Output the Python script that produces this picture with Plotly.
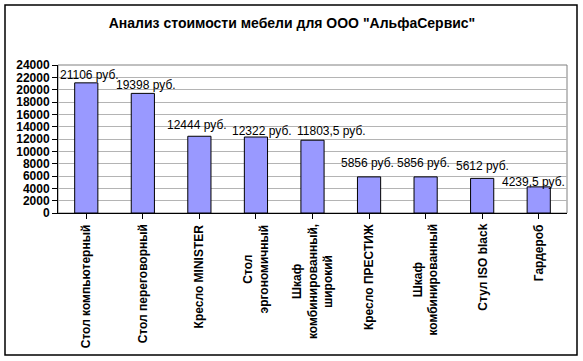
import plotly.graph_objects as go

categories = [
    "Стол компьютерный",
    "Стол переговорный",
    "Кресло MINISTER",
    "Стол<br>эргономичный",
    "Шкаф<br>комбинированный,<br>широкий",
    "Кресло ПРЕСТИЖ",
    "Шкаф<br>комбинированный",
    "Стул ISO black",
    "Гардероб",
]
values = [21106, 19398, 12444, 12322, 11803.5, 5856, 5856, 5612, 4239.5]
y_ticks = list(range(0, 24001, 2000))

labels = [f"{v:g}".replace(".", ",") + " руб." for v in values]

# label placement tweaks (pixels) mimicking the original's staggered labels
label_dx = [3.5, 3, -2, 6, 19, -2, -2, 0, -5]
label_dy = [8, 8, 11, 6, 9.5, 14, 14, 12, 5]

L, R, T, B = 58, 16, 65, 148
W, H = 583, 361
pw, ph = W - L - R, H - T - B

fig = go.Figure()
fig.add_trace(go.Bar(
    x=list(range(len(categories))),
    y=values,
    width=0.41,
    marker=dict(color="#9999FF", line=dict(color="#000000", width=1)),
    hoverinfo="skip",
))

annotations = []
for i, c in enumerate(categories):
    annotations.append(dict(
        x=i, xref="x", y=0, yref="paper", yshift=-9,
        text=c, textangle=-90, showarrow=False,
        xanchor="center", yanchor="top", align="center",
        font=dict(family="Liberation Sans, Arial", size=12, color="#000", weight="bold"),
    ))
for i, (v, t) in enumerate(zip(values, labels)):
    annotations.append(dict(
        x=i, xref="x", y=v, yref="y", xshift=label_dx[i], yshift=label_dy[i],
        text=t, showarrow=False, xanchor="center", yanchor="middle",
        font=dict(family="Liberation Sans, Arial", size=12, color="#000"),
    ))

shapes = [
    dict(type="rect", xref="paper", yref="paper", x0=0, x1=1, y0=0, y1=1,
         line=dict(color="#808080", width=1), layer="below"),
    dict(type="rect", xref="paper", yref="paper",
         x0=(5 - L) / pw, x1=(577 - L) / pw,
         y0=(H - B - 355) / ph, y1=(H - B - 5) / ph,
         line=dict(color="#000000", width=1.5)),
]

fig.update_layout(
    width=W, height=H,
    margin=dict(l=L, r=R, t=T, b=B),
    paper_bgcolor="white", plot_bgcolor="white",
    title=dict(text="<b>Анализ стоимости мебели для ООО \"АльфаСервис\"</b>",
               x=(292 - L) / pw, xref="paper", xanchor="center", y=1 - 23.5 / H, yanchor="middle",
               font=dict(family="Liberation Sans, Arial", size=14, color="#000")),
    showlegend=False,
    bargap=0.59,
    annotations=annotations,
    shapes=shapes,
    xaxis=dict(range=[-0.5, len(categories) - 0.5], showticklabels=False,
               ticks="outside", tickson="boundaries", ticklen=5, tickcolor="#000",
               tickvals=list(range(len(categories))),
               showline=True, linecolor="#000", linewidth=1, showgrid=False,
               zeroline=False),
    yaxis=dict(range=[0, 24000], tickvals=y_ticks, ticktext=[str(t) for t in y_ticks],
               ticks="outside", ticklen=5, tickcolor="#000",
               showline=True, linecolor="#000", linewidth=1,
               showgrid=True, gridcolor="#b4b4b4", gridwidth=1, zeroline=False,
               tickfont=dict(family="Liberation Sans, Arial", size=12, color="#000", weight="bold")),
)

fig.write_html("out.html", config={"displayModeBar": False},
               post_script="document.body.style.margin='0';")
